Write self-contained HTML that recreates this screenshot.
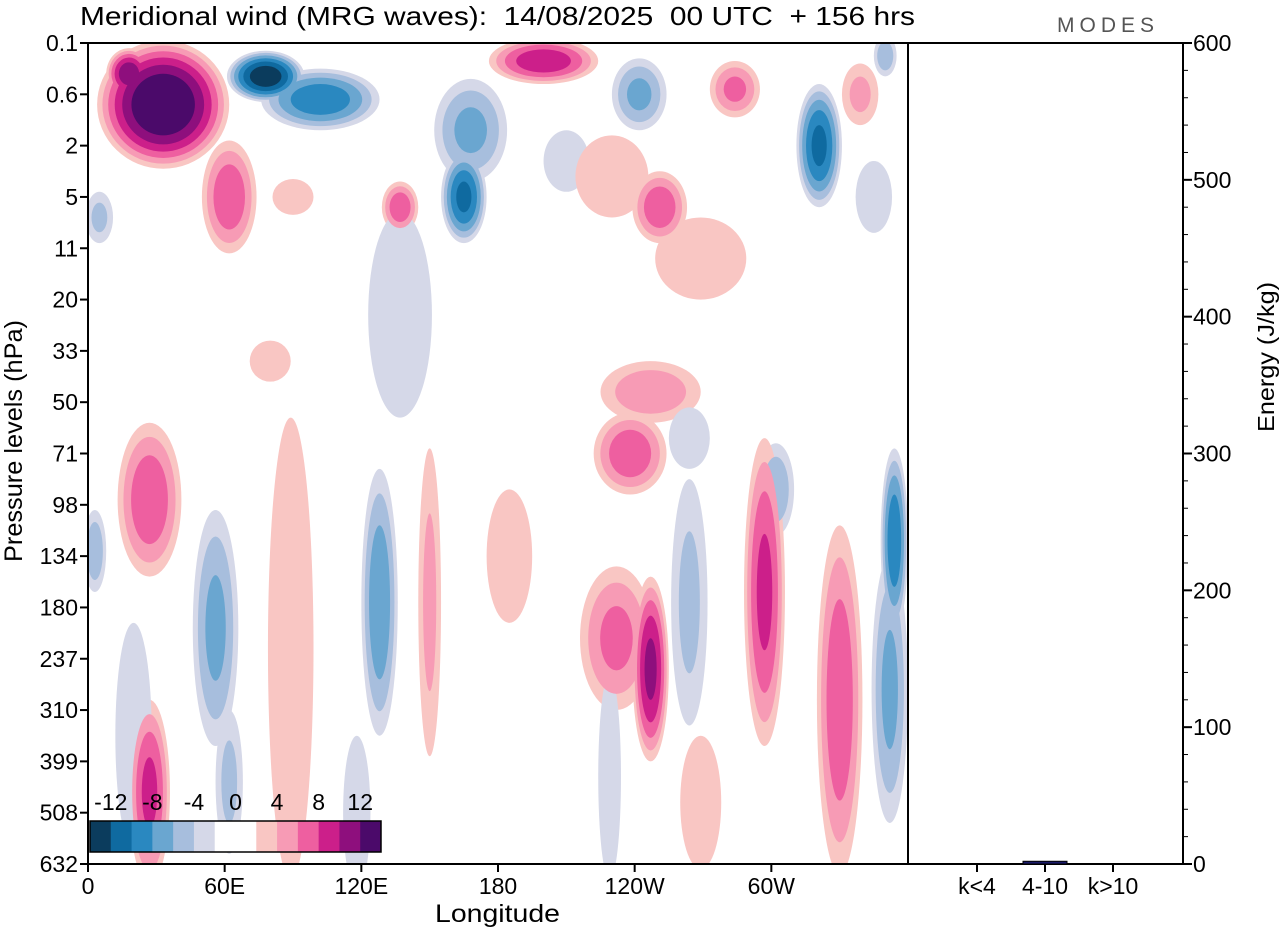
<!DOCTYPE html>
<html><head><meta charset="utf-8"><style>
body{margin:0;background:#fff;}
svg text{font-family:"Liberation Sans",sans-serif;fill:#000;white-space:pre;}
</style></head><body>
<svg id="chart" width="1280" height="930" xmlns="http://www.w3.org/2000/svg">
<text x="80" y="25" font-size="26" textLength="835" lengthAdjust="spacingAndGlyphs" xml:space="preserve">Meridional wind (MRG waves):  14/08/2025  00 UTC  + 156 hrs</text>
<text x="1057" y="32" font-size="21" letter-spacing="5" style="fill:#555">MODES</text>
<defs><clipPath id="plotclip"><rect x="88" y="43" width="820" height="821"/></clipPath></defs>
<g id="field" clip-path="url(#plotclip)"></g>
<g id="axes"></g>
</svg>
<script>
// ---- data ----
const levelLabels=["0.1","0.6","2","5","11","20","33","50","71","98","134","180","237","310","399","508","632"];
const lonTicks=[0,60,120,180,240,300];
const lonTickLabels=["0","60E","120E","180","120W","60W"];
const energyTicks=[0,100,200,300,400,500,600];
const energyCats=["k<4","4-10","k>10"];
const energyValues=[0.3,2,0.3];
const cbarLabels=["-12","-8","-4","0","4","8","12"];
// blobs: centre longitude (deg), level index, peak (m/s), spread lon (deg), spread level (outer 2 m/s contour)
const blobLon=[33,18,62,78,102,168,165,137,200,242,284,321,251,350,339,269,137,247,80,238,264,302,354,352,27,27,56,62,89,128,150,232,247,297,330,264,3,5,185,269,229,118,210,230,345,20,90];
const blobLev=[1.2,0.6,3.0,0.65,1.1,1.7,3.0,3.2,0.35,1.0,0.9,2.0,3.2,0.25,1.0,4.2,5.3,6.8,6.2,8.0,7.7,8.7,9.7,12.6,8.9,14.6,11.4,14.4,11.8,10.9,10.9,11.6,12.2,10.7,12.8,10.9,9.9,3.4,10.0,14.8,14.3,15.0,2.3,2.6,3.0,13.5,3.0];
const blobPeak=[15,12,8,-14,-10,-7,-11,8,10,-7,7,-11,8,-6,5,3.5,-3.5,6,3,8,-4,-6,-10,-7,8,9,-7,-5,3.5,-8,5,7,11,9,8,-5,-6,-5,3,3,-4,-4,-3,3,-3,-3,3];
const blobSx=[29,10,12,17,26,16,10,8,24,12,11,10,12,5,8,20,14,22,9,16,9,8,6,8,14,9,10,6,10,8,5,16,8,9,10,8,5,6,10,9,5,6,10,16,8,8,9];
const blobSy=[1.25,0.5,1.1,0.5,0.6,1.0,0.9,0.5,0.45,0.7,0.55,1.2,0.7,0.4,0.6,0.8,2.0,0.6,0.4,0.8,0.6,0.9,1.8,2.6,1.5,1.8,2.3,1.4,4.5,2.6,3.0,1.4,1.8,3.0,3.4,2.4,0.8,0.5,1.3,1.3,2.0,1.5,0.6,0.8,0.7,2.2,0.35];
// ---- scales ----
const X0=88,X1=908,Y0=43,Y1=864;
const xLon=l=>X0+l/360*(X1-X0);
const yLev=i=>Y0+i*(Y1-Y0)/16;
const yE=v=>Y1-v/600*(Y1-Y0);
const thresholds=[2,4,6,8,10,12];
const posCol=["#f9c6c3","#f79bb5","#ee5fa0","#cc1f8a","#8e0f7d","#4b0a6a"];
const negCol=["#d5d8e8","#a7bedd","#6aa6d0","#2a88c0","#0f6aa0","#0b3c5d"];
const NS="http://www.w3.org/2000/svg";
function mk(t,a,p){const e=document.createElementNS(NS,t);for(const k in a)e.setAttribute(k,a[k]);p.appendChild(e);return e;}
const field=document.getElementById('field');
for(let k=0;k<thresholds.length;k++){
  const t=thresholds[k];
  for(let b=0;b<blobLon.length;b++){
    const p=Math.abs(blobPeak[b]);if(p<=t)continue;
    const r=Math.sqrt((p-t)/(p-2));
    const e=mk('ellipse',{cx:xLon(blobLon[b]),cy:yLev(blobLev[b]),rx:(xLon(blobSx[b]*r)-X0),ry:(yLev(blobSy[b]*r)-Y0),fill:(blobPeak[b]>0?posCol:negCol)[k]},field);
    
    
  }
}
const ax=document.getElementById('axes');
mk('rect',{x:X0,y:Y0,width:X1-X0,height:Y1-Y0,fill:'none',stroke:'#000','stroke-width':2},ax);
mk('rect',{x:X1,y:Y0,width:1183-X1,height:Y1-Y0,fill:'none',stroke:'#000','stroke-width':2},ax);
levelLabels.forEach((s,i)=>{const y=yLev(i);mk('line',{x1:80,x2:X0,y1:y,y2:y,stroke:'#000','stroke-width':2},ax);
 const t=mk('text',{x:78,y:y+8,'font-size':23,'text-anchor':'end'},ax);t.textContent=s;
 });
lonTicks.forEach((l,i)=>{const x=xLon(l);mk('line',{x1:x,x2:x,y1:Y1,y2:Y1+8,stroke:'#000','stroke-width':2},ax);
 const t=mk('text',{x:x,y:Y1+30,'font-size':23,'text-anchor':'middle'},ax);t.textContent=lonTickLabels[i];
 });
let t=mk('text',{x:435,y:922,'font-size':25,textLength:125,lengthAdjust:'spacingAndGlyphs'},ax);t.textContent='Longitude';
t=mk('text',{x:-562,y:22,'font-size':25,textLength:242,lengthAdjust:'spacingAndGlyphs',transform:'rotate(-90)'},ax);t.textContent='Pressure levels (hPa)';
t=mk('text',{x:-432,y:1274,'font-size':23,textLength:150,lengthAdjust:'spacingAndGlyphs',transform:'rotate(-90)'},ax);t.textContent='Energy (J/kg)';
for(let v=0;v<=600;v+=20){const y=yE(v);const maj=v%100===0;mk('line',{x1:1183,x2:1183+(maj?9:5),y1:y,y2:y,stroke:'#000','stroke-width':maj?2:1},ax);}
energyTicks.forEach(v=>{const t=mk('text',{x:1193,y:yE(v)+8,'font-size':23},ax);t.textContent=v;});
const bx=[977,1045,1113];
energyCats.forEach((c,i)=>{mk('line',{x1:bx[i],x2:bx[i],y1:Y1,y2:Y1+8,stroke:'#000','stroke-width':2},ax);
 const b=mk('rect',{x:bx[i]-22,y:yE(energyValues[i]),width:44,height:Y1-yE(energyValues[i]),fill:'#1a1a6a',stroke:'#000'},ax);
 
 const t=mk('text',{x:bx[i],y:Y1+30,'font-size':23,'text-anchor':'middle'},ax);t.textContent=c;});
// colorbar
const cb=mk('g',{},ax);
const cbCols=[...negCol].reverse().concat(['#ffffff','#ffffff'],posCol);
const cw=(381-90)/14;
cbCols.forEach((c,i)=>mk('rect',{x:90+i*cw,y:821,width:cw+0.5,height:31,fill:c},cb));
mk('rect',{x:90,y:821,width:291,height:31,fill:'none',stroke:'#000','stroke-width':1.5},cb);
const cbPos=[1,3,5,7,9,11,13];
cbarLabels.forEach((s,i)=>{const t=mk('text',{x:90+cbPos[i]*cw,y:810,'font-size':23,'text-anchor':'middle'},cb);t.textContent=s;});
</script>
</body></html>
